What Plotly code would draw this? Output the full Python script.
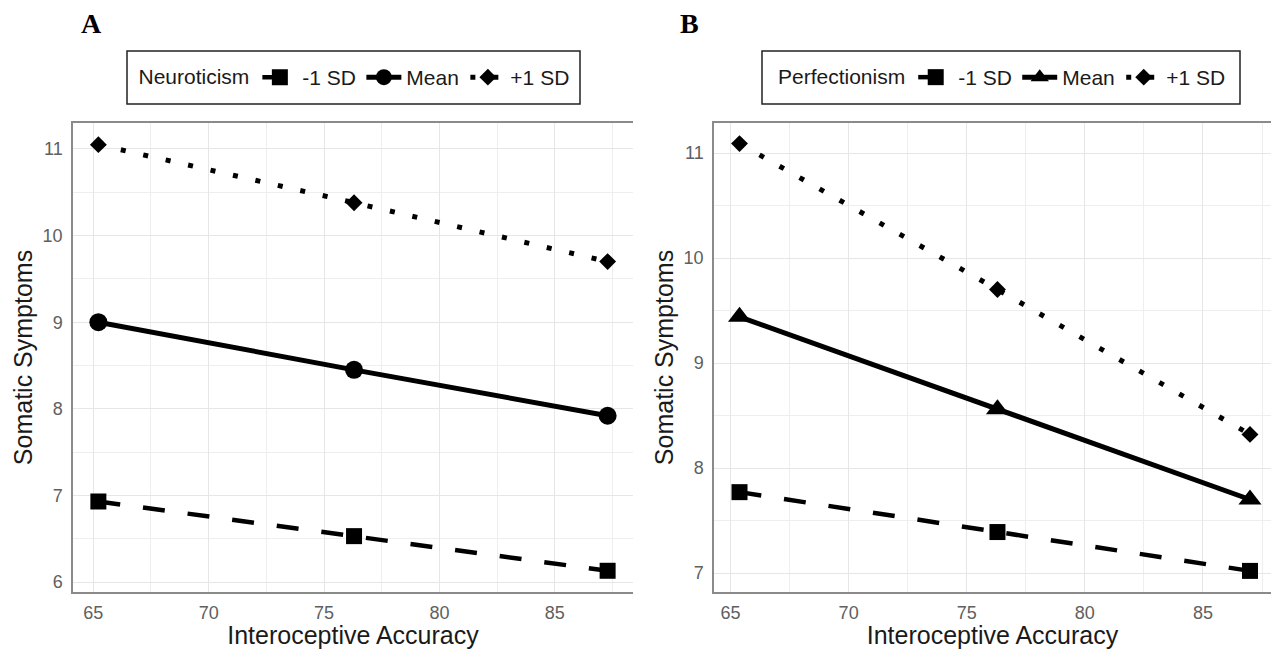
import plotly.graph_objects as go

# ---- data ----
levels = ["-1 SD", "Mean", "+1 SD"]

x_neu = [65.22, 76.30, 87.29]
neu_low = [6.93, 6.53, 6.13]
neu_mean = [9.00, 8.45, 7.92]
neu_high = [11.05, 10.38, 9.70]

x_per = [65.38, 76.30, 86.99]
per_low = [7.77, 7.39, 7.02]
per_mean = [9.44, 8.56, 7.70]
per_high = [11.09, 9.70, 8.32]

x_ticks = [65, 70, 75, 80, 85]
y_ticks_a = [6, 7, 8, 9, 10, 11]
y_ticks_b = [7, 8, 9, 10, 11]

W, H = 1271, 649
FONT = "Liberation Sans, Arial, sans-serif"

styles = {
    "-1 SD": dict(dash="22px,23px", width=4.5),
    "Mean": dict(dash="solid", width=5),
    "+1 SD": dict(dash="5px,18px", width=5),
}

fig = go.Figure()

def add_panel(xs, series, symbols, sizes, xa, ya, legend):
    for lvl, ys, sym, sz in zip(levels, series, symbols, sizes):
        st = styles[lvl]
        fig.add_trace(go.Scatter(
            x=xs, y=ys, mode="lines+markers", name=lvl,
            xaxis=xa, yaxis=ya, legend=legend,
            line=dict(color="black", width=st["width"], dash=st["dash"]),
            marker=dict(symbol=sym, size=sz, color="black"),
        ))

add_panel(x_neu, [neu_low, neu_mean, neu_high],
          ["square", "circle", "diamond"], [16, 18, 13], "x", "y", "legend")
add_panel(x_per, [per_low, per_mean, per_high],
          ["square", "triangle-up", "diamond"], [16, 20, 13], "x2", "y2", "legend2")

grid = "#e6e6e6"
border = "#8a8a8a"
tickfont = dict(family=FONT, size=18, color="#606060")
titlefont = dict(family=FONT, size=25, color="#1a1a1a")

def xaxis_cfg(domain, rng):
    return dict(
        domain=domain, range=rng, tickvals=x_ticks, ticks="",
        showgrid=True, gridcolor=grid, gridwidth=1.2,
        minor=dict(dtick=2.5, tick0=62.5, showgrid=True, gridcolor="#eeeeee", gridwidth=1),
        showline=True, linecolor=border, linewidth=1.5, mirror=True,
        zeroline=False, tickfont=tickfont,
        title=dict(text="Interoceptive Accuracy", font=titlefont, standoff=5),
        ticklabelstandoff=4,
    )

def yaxis_cfg(domain, rng, ticks, anchor):
    return dict(
        domain=domain, range=rng, tickvals=ticks, ticks="", anchor=anchor,
        showgrid=True, gridcolor=grid, gridwidth=1.2,
        minor=dict(dtick=0.5, tick0=0, showgrid=True, gridcolor="#eeeeee", gridwidth=1),
        showline=True, linecolor=border, linewidth=1.5,
        zeroline=False, tickfont=tickfont,
        title=dict(text="Somatic Symptoms", font=titlefont, standoff=3),
        ticklabelstandoff=5,
    )

ydom = [1 - 592 / H, 1 - 123 / H]

legfont = dict(family=FONT, size=21, color="#1a1a1a")

def legend_cfg(title, xc):
    return dict(
        orientation="h", x=xc / W, y=1 - 77.5 / H, xanchor="center", yanchor="middle",
        title=dict(text=title, side="left", font=legfont),
        font=legfont, borderwidth=0, bgcolor="rgba(0,0,0,0)",
        itemwidth=35, entrywidth=54, entrywidthmode="pixels",
    )

fig.update_layout(
    width=W, height=H,
    margin=dict(l=0, r=0, t=0, b=0),
    paper_bgcolor="white", plot_bgcolor="white",
    font=dict(family=FONT, color="#1a1a1a"),
    xaxis=xaxis_cfg([73 / W, 633 / W], [64.12, 88.39]),
    yaxis=yaxis_cfg(ydom, [5.885, 11.30], y_ticks_a, "x"),
    xaxis2=dict(xaxis_cfg([714 / W, 1.0], [64.30, 87.88]), anchor="y2"),
    yaxis2=yaxis_cfg(ydom, [6.819, 11.286], y_ticks_b, "x2"),
    legend=legend_cfg("Neuroticism", 353),
    legend2=legend_cfg("Perfectionism", 1001),
    shapes=[
        dict(type="rect", xref="paper", yref="paper",
             x0=127 / W, x1=580 / W, y0=1 - 104 / H, y1=1 - 51 / H,
             line=dict(color="#222222", width=1.5), fillcolor="rgba(0,0,0,0)", layer="below"),
        dict(type="rect", xref="paper", yref="paper",
             x0=762 / W, x1=1240 / W, y0=1 - 104 / H, y1=1 - 51 / H,
             line=dict(color="#222222", width=1.5), fillcolor="rgba(0,0,0,0)", layer="below"),
    ],
    annotations=[
        dict(text="<b>A</b>", x=91 / W, y=1 - 24 / H, xref="paper", yref="paper",
             showarrow=False, xanchor="center", yanchor="middle",
             font=dict(family="Liberation Serif, Times New Roman, serif", size=28, color="black")),
        dict(text="<b>B</b>", x=689 / W, y=1 - 24 / H, xref="paper", yref="paper",
             showarrow=False, xanchor="center", yanchor="middle",
             font=dict(family="Liberation Serif, Times New Roman, serif", size=28, color="black")),
    ],
)

fig.write_html("out.html", config={"displayModeBar": False},
               post_script="document.body.style.margin='0';document.body.style.overflow='hidden';")
